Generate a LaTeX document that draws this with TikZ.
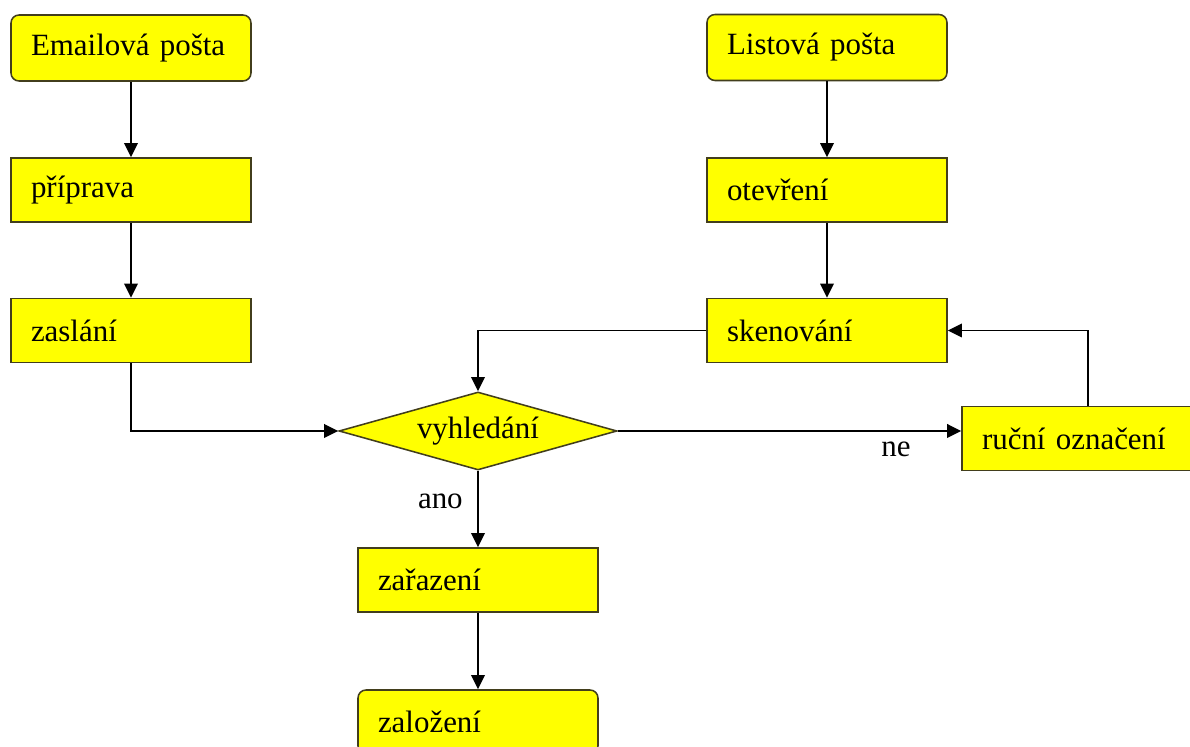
\documentclass[tikz,border=0pt]{standalone}
\usepackage{fontspec}
\setmainfont{Liberation Serif}
\usepackage{tikz}
\usetikzlibrary{arrows.meta,positioning,shapes.geometric}
\definecolor{boxyellow}{RGB}{255,255,0}
\definecolor{boxedge}{RGB}{66,62,28}

\begin{document}
\begin{tikzpicture}[>={Triangle[length=0.35cm, width=0.34cm]}, line width=1.1pt,
    font=\fontsize{22}{26}\selectfont,
    box/.style={rectangle, draw=boxedge, fill=boxyellow, minimum width=6cm, minimum height=1.6cm, text width=5cm, inner xsep=0.5cm, align=left},
    roundbox/.style={box, rounded corners=0.2cm, minimum height=1.65cm},
    decision/.style={diamond, draw=boxedge, fill=boxyellow, aspect=3.5, inner sep=0pt, minimum width=6.95cm, minimum height=1.95cm}]
    \useasboundingbox (0,0) rectangle (29.75,18.675);
    \clip (0,0) rectangle (29.75,18.675);

    \def\colL{3.275}
    \def\colR{20.675}
    \def\colM{11.95}
    % Email branch
    \node[roundbox] (email) at (\colL, 17.475) {Emailová pošta};
    \node[box] (priprava) at (\colL, 13.925) {příprava};
    \node[box] (zaslani) at (\colL, 10.4125) {zaslání};

    % Letter branch
    \node[roundbox] (listova) at (\colR, 17.4875) {Listová pošta};
    \node[box] (otevreni) at (\colR, 13.925) {otevření};
    \node[box] (skenovani) at (\colR, 10.4125) {skenování};

    % Search and filing
    \node[decision] (vyhledani) at (\colM, 7.9) {vyhledání};
    \node[box, minimum width=6.3cm, text width=5.3cm] (rucni) at (27.2, 7.7125) {ruční označení};
    \node[box] (zarazeni) at (\colM, 4.175) {zařazení};
    \node[roundbox, minimum height=1.6cm] (zalozeni) at (\colM, 0.625) {založení};

    % Arrows
    \draw[->] (email) -- (priprava);
    \draw[->] (priprava) -- (zaslani);
    \draw[->] (zaslani.south) |- (vyhledani.west);
    \draw[->] (listova) -- (otevreni);
    \draw[->] (otevreni) -- (skenovani);
    \draw[->] (skenovani.west) -| (vyhledani.north);
    \draw[->] (vyhledani.east) -- (vyhledani.east -| rucni.west) node[pos=0.81, below=4pt] (ne) {ne};
    \draw[->] (rucni.north) |- (skenovani.east);
    \draw[->] (vyhledani.south) -- (zarazeni.north) node[pos=0.4, left=7pt] (ano) {ano};
    \draw[->] (zarazeni) -- (zalozeni);
\end{tikzpicture}
\end{document}
